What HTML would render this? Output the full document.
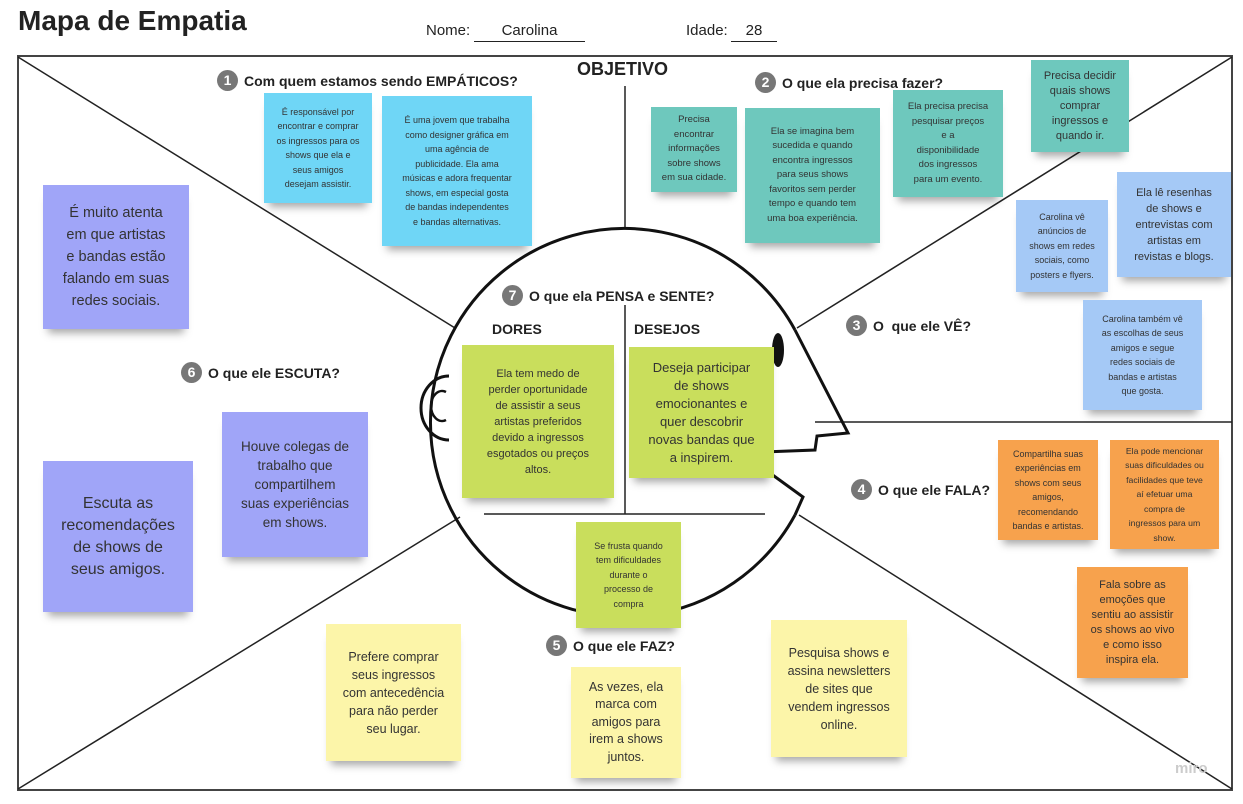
<!DOCTYPE html>
<html><head><meta charset="utf-8"><style>
*{margin:0;padding:0;box-sizing:border-box}
body{width:1243px;height:804px;background:#fff;position:relative;overflow:hidden;font-family:"Liberation Sans",sans-serif;color:#222}
.n{position:absolute;display:flex;align-items:center;justify-content:center;text-align:center;box-shadow:0 9px 8px -5px rgba(0,0,0,.35);color:#333;white-space:nowrap}
.s{font-size:9px;line-height:14.5px}
.b{background:#6fd6f6}.t{background:#6ec8bd}.lb{background:#a5c9f6}.g{background:#c9de5c}.o{background:#f7a24d}.p{background:#a0a5f8}.y{background:#fcf5a9}
.h{position:absolute;font-weight:bold;font-size:14px;white-space:nowrap;display:flex;align-items:center}
.c{display:inline-block;width:21px;height:21px;border-radius:50%;background:#777;color:#fff;font-size:14px;text-align:center;line-height:21px;margin-right:6px}
.a{position:absolute;font-size:15px}
</style></head><body>
<div style="position:absolute;left:18px;top:5px;font-size:28px;font-weight:bold">Mapa de Empatia</div>
<div class="a" style="left:426px;top:22px">Nome:</div>
<div class="a" style="left:474px;top:22px;width:111px;text-align:center;border-bottom:1.5px solid #222;height:20px">Carolina</div>
<div class="a" style="left:686px;top:22px">Idade:</div>
<div class="a" style="left:731px;top:22px;width:46px;text-align:center;border-bottom:1.5px solid #222;height:20px">28</div>
<svg width="1243" height="804" style="position:absolute;left:0;top:0">
<rect x="18" y="56" width="1214" height="734" fill="none" stroke="#444" stroke-width="2"/>
<g stroke="#222" stroke-width="1.5" fill="none">
<line x1="18" y1="57" x2="455" y2="328"/>
<line x1="1232" y1="57" x2="797" y2="328"/>
<line x1="18" y1="789" x2="460" y2="517"/>
<line x1="1232" y1="789" x2="799" y2="515"/>
<line x1="625" y1="86" x2="625" y2="229"/>
<line x1="815" y1="422" x2="1232" y2="422"/>
<line x1="625" y1="305" x2="625" y2="514"/>
<line x1="484" y1="514" x2="765" y2="514"/>
</g>
<g stroke="#111" stroke-width="3" fill="none">
<path d="M795,330 A194,194 0 1 0 795,515"/>
<path d="M795,330 L848,433 L817,436 L815,450 L763,452"/>
<path d="M763,468 L803,497 L795,515"/>
<path d="M449,376 A28,32 0 1 0 449,440"/>
<path d="M446,392 A11,15 0 1 0 446,420" stroke-width="2.5"/>
</g>
<ellipse cx="778" cy="350" rx="6" ry="17" fill="#111"/>
</svg>
<div style="position:absolute;left:577px;top:59px;font-size:18px;font-weight:bold">OBJETIVO</div>
<div class="h" style="left:217px;top:70px"><span class="c">1</span>Com quem estamos sendo EMPÁTICOS?</div>
<div class="h" style="left:755px;top:72px"><span class="c">2</span>O que ela precisa fazer?</div>
<div class="h" style="left:846px;top:315px"><span class="c">3</span>O &nbsp;que ele VÊ?</div>
<div class="h" style="left:851px;top:479px"><span class="c">4</span>O que ele FALA?</div>
<div class="h" style="left:546px;top:635px"><span class="c">5</span>O que ele FAZ?</div>
<div class="h" style="left:181px;top:362px"><span class="c">6</span>O que ele ESCUTA?</div>
<div class="h" style="left:502px;top:285px"><span class="c">7</span>O que ela PENSA e SENTE?</div>
<div class="h" style="left:492px;top:321px">DORES</div>
<div class="h" style="left:634px;top:321px">DESEJOS</div>

<div class="n b s" style="left:264px;top:93px;width:108px;height:110px">É responsável por<br>encontrar e comprar<br>os ingressos para os<br>shows que ela e<br>seus amigos<br>desejam assistir.</div>
<div class="n b s" style="left:382px;top:96px;width:150px;height:150px">É uma jovem que trabalha<br>como designer gráfica em<br>uma agência de<br>publicidade. Ela ama<br>músicas e adora frequentar<br>shows, em especial gosta<br>de bandas independentes<br>e bandas alternativas.</div>
<div class="n t s" style="left:651px;top:107px;width:86px;height:85px;font-size:9.5px">Precisa<br>encontrar<br>informações<br>sobre shows<br>em sua cidade.</div>
<div class="n t s" style="left:745px;top:108px;width:135px;height:135px;font-size:9.5px">Ela se imagina bem<br>sucedida e quando<br>encontra ingressos<br>para seus shows<br>favoritos sem perder<br>tempo e quando tem<br>uma boa experiência.</div>
<div class="n t s" style="left:893px;top:90px;width:110px;height:107px;font-size:9.5px">Ela precisa precisa<br>pesquisar preços<br>e a<br>disponibilidade<br>dos ingressos<br>para um evento.</div>
<div class="n t" style="left:1031px;top:60px;width:98px;height:92px;font-size:11px;line-height:15px">Precisa decidir<br>quais shows<br>comprar<br>ingressos e<br>quando ir.</div>
<div class="n lb s" style="left:1016px;top:200px;width:92px;height:92px">Carolina vê<br>anúncios de<br>shows em redes<br>sociais, como<br>posters e flyers.</div>
<div class="n lb" style="left:1117px;top:172px;width:114px;height:105px;font-size:11px;line-height:16px">Ela lê resenhas<br>de shows e<br>entrevistas com<br>artistas em<br>revistas e blogs.</div>
<div class="n lb s" style="left:1083px;top:300px;width:119px;height:110px">Carolina também vê<br>as escolhas de seus<br>amigos e segue<br>redes sociais de<br>bandas e artistas<br>que gosta.</div>
<div class="n g" style="left:462px;top:345px;width:152px;height:153px;font-size:11px;line-height:16px">Ela tem medo de<br>perder oportunidade<br>de assistir a seus<br>artistas preferidos<br>devido a ingressos<br>esgotados ou preços<br>altos.</div>
<div class="n g" style="left:629px;top:347px;width:145px;height:131px;font-size:13px;line-height:18px">Deseja participar<br>de shows<br>emocionantes e<br>quer descobrir<br>novas bandas que<br>a inspirem.</div>
<div class="n g s" style="left:576px;top:522px;width:105px;height:106px">Se frusta quando<br>tem dificuldades<br>durante o<br>processo de<br>compra</div>
<div class="n o s" style="left:998px;top:440px;width:100px;height:100px">Compartilha suas<br>experiências em<br>shows com seus<br>amigos,<br>recomendando<br>bandas e artistas.</div>
<div class="n o s" style="left:1110px;top:440px;width:109px;height:109px;font-size:8.7px">Ela pode mencionar<br>suas dificuldades ou<br>facilidades que teve<br>aí efetuar uma<br>compra de<br>ingressos para um<br>show.</div>
<div class="n o" style="left:1077px;top:567px;width:111px;height:111px;font-size:11px;line-height:15px">Fala sobre as<br>emoções que<br>sentiu ao assistir<br>os shows ao vivo<br>e como isso<br>inspira ela.</div>
<div class="n p" style="left:43px;top:185px;width:146px;height:144px;font-size:14.5px;line-height:22px">É muito atenta<br>em que artistas<br>e bandas estão<br>falando em suas<br>redes sociais.</div>
<div class="n p" style="left:222px;top:412px;width:146px;height:145px;font-size:13.5px;line-height:19px">Houve colegas de<br>trabalho que<br>compartilhem<br>suas experiências<br>em shows.</div>
<div class="n p" style="left:43px;top:461px;width:150px;height:151px;font-size:16px;line-height:22px">Escuta as<br>recomendações<br>de shows de<br>seus amigos.</div>
<div class="n y" style="left:326px;top:624px;width:135px;height:137px;font-size:12.5px;line-height:18px">Prefere comprar<br>seus ingressos<br>com antecedência<br>para não perder<br>seu lugar.</div>
<div class="n y" style="left:571px;top:667px;width:110px;height:111px;font-size:12.5px;line-height:17.5px">As vezes, ela<br>marca com<br>amigos para<br>irem a shows<br>juntos.</div>
<div class="n y" style="left:771px;top:620px;width:136px;height:137px;font-size:12.5px;line-height:18px">Pesquisa shows e<br>assina newsletters<br>de sites que<br>vendem ingressos<br>online.</div>
<div style="position:absolute;left:1175px;top:760px;font-size:15px;color:#ccc;font-weight:bold">miro</div>
</body></html>
